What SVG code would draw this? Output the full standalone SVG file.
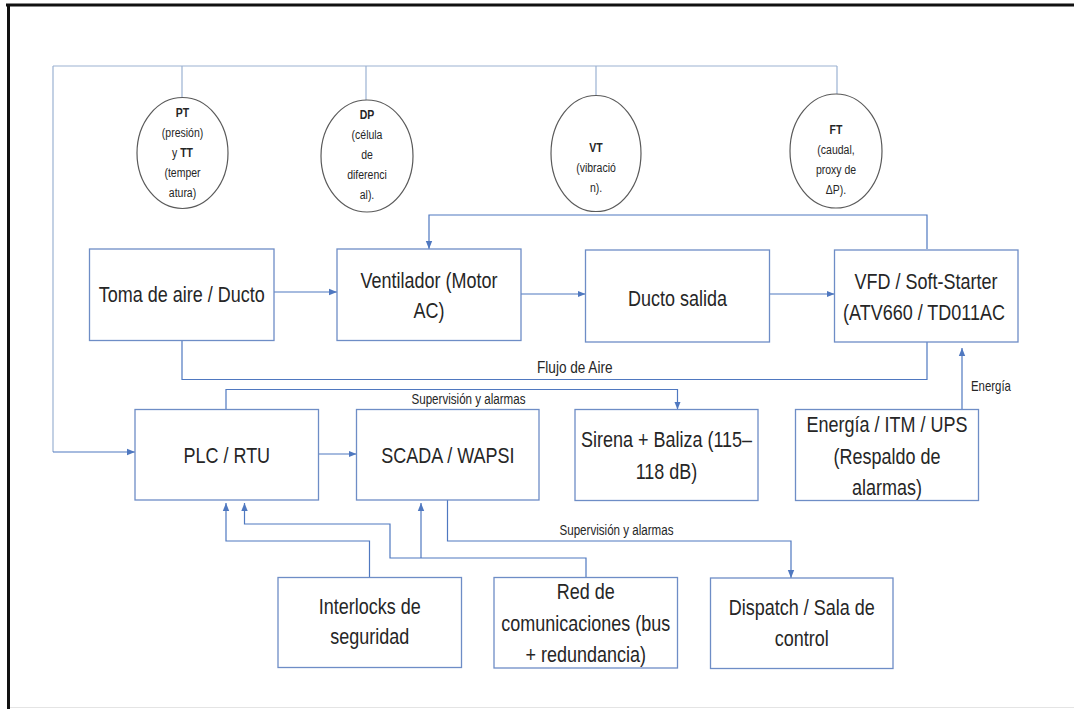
<svg xmlns="http://www.w3.org/2000/svg" width="1074" height="709" viewBox="0 0 1074 709">
<style>
.box{fill:#fff;stroke:#6E8DC6;stroke-width:1.3}
.circ{fill:#fff;stroke:#5a5a5a;stroke-width:1.2}
.bus{fill:none;stroke:#9CB2D2;stroke-width:1.2}
.ln{fill:none;stroke:#4F78C0;stroke-width:1.2}
.t{font-family:"Liberation Sans",Arial,sans-serif;font-size:18px;fill:#262626;text-anchor:middle;dominant-baseline:central}
.c{font-family:"Liberation Sans",Arial,sans-serif;font-size:10.5px;fill:#262626;text-anchor:middle;dominant-baseline:central}
.s{font-family:"Liberation Sans",Arial,sans-serif;font-size:11.6px;fill:#262626;dominant-baseline:central}
.b{font-weight:bold}
</style>
<defs>
<marker id="ah" viewBox="0 0 8 8" refX="8" refY="4" markerWidth="8" markerHeight="8" markerUnits="userSpaceOnUse" orient="auto">
<path d="M0,0.8 L8,4 L0,7.2 z" fill="#4F78C0"/>
</marker>
</defs>
<rect x="0" y="0" width="1074" height="709" fill="#fff"/>
<g id="frame">
<line x1="6" y1="5" x2="1074" y2="5" stroke="#111" stroke-width="3"/>
<line x1="8.5" y1="4" x2="8.5" y2="709" stroke="#111" stroke-width="3"/>
<line x1="10" y1="707.5" x2="1074" y2="707.5" stroke="#e4e4e4" stroke-width="1"/>
</g>
<g id="connectors">
<path class="bus" d="M53,66 H837 M182,66 V97.5 M366,66 V100 M596,66 V95 M837,66 V94 M53,66 V452"/>
<path class="ln" d="M53,452 H135" marker-end="url(#ah)"/>
<path class="ln" d="M927,249 V215 H429 V249" marker-end="url(#ah)"/>
<path class="ln" d="M274,292 H337" marker-end="url(#ah)"/>
<path class="ln" d="M521,294 H585.5" marker-end="url(#ah)"/>
<path class="ln" d="M769.5,294 H834.5" marker-end="url(#ah)"/>
<path class="ln" d="M182,341 V379.5 H927 V341"/>
<path class="ln" d="M962,409.5 V348" marker-end="url(#ah)"/>
<path class="ln" d="M318.5,454 H356.5" marker-end="url(#ah)"/>
<path class="ln" d="M226,409.5 V389.5 H677.5 V409.5" marker-end="url(#ah)"/>
<path class="ln" d="M369.5,577.5 V541 H226 V503" marker-end="url(#ah)"/>
<path class="ln" d="M586,577.5 V558 H390 V524 H244.5 V503" marker-end="url(#ah)"/>
<path class="ln" d="M421,558 V503" marker-end="url(#ah)"/>
<path class="ln" d="M447.5,500 V541 H791 V578" marker-end="url(#ah)"/>
<text class="s" transform="translate(537 366.5) scale(1 1.22)" style="font-size:13.6px">Flujo de Aire</text>
<text class="s" transform="translate(971 386) scale(1 1.22)" style="font-size:11.4px">Energía</text>
<text class="s" transform="translate(411.5 399) scale(1 1.22)">Supervisión y alarmas</text>
<text class="s" transform="translate(559.5 530) scale(1 1.22)">Supervisión y alarmas</text>
</g>
<g id="pt">
<ellipse class="circ" cx="182.5" cy="153" rx="45.5" ry="55.5"/>
<text class="c b" transform="translate(182.5 113) scale(1 1.25)">PT</text>
<text class="c" transform="translate(182.5 133) scale(1 1.25)">(presión)</text>
<text class="c" transform="translate(182.5 153) scale(1 1.25)">y <tspan class="b">TT</tspan></text>
<text class="c" transform="translate(182.5 173) scale(1 1.25)">(temper</text>
<text class="c" transform="translate(182.5 193) scale(1 1.25)">atura)</text>
</g>
<g id="dp">
<ellipse class="circ" cx="367" cy="156" rx="46" ry="56"/>
<text class="c b" transform="translate(367 115) scale(1 1.25)">DP</text>
<text class="c" transform="translate(367 135) scale(1 1.25)">(célula</text>
<text class="c" transform="translate(367 155) scale(1 1.25)">de</text>
<text class="c" transform="translate(367 175) scale(1 1.25)">diferenci</text>
<text class="c" transform="translate(367 195) scale(1 1.25)">al).</text>
</g>
<g id="vt">
<ellipse class="circ" cx="596" cy="153.5" rx="45" ry="58"/>
<text class="c b" transform="translate(596 148) scale(1 1.25)">VT</text>
<text class="c" transform="translate(596 168) scale(1 1.25)">(vibració</text>
<text class="c" transform="translate(596 188) scale(1 1.25)">n).</text>
</g>
<g id="ft">
<ellipse class="circ" cx="836" cy="151" rx="46" ry="57"/>
<text class="c b" transform="translate(836 130) scale(1 1.25)">FT</text>
<text class="c" transform="translate(836 150) scale(1 1.25)">(caudal,</text>
<text class="c" transform="translate(836 170) scale(1 1.25)">proxy de</text>
<text class="c" transform="translate(836 190) scale(1 1.25)">ΔP).</text>
</g>
<g id="toma">
<rect class="box" x="89.5" y="249" width="184.5" height="91.5"/>
<text class="t" transform="translate(181.8 294) scale(1 1.22)">Toma de aire / Ducto</text>
</g>
<g id="ventilador">
<rect class="box" x="337" y="249" width="184" height="91.5"/>
<text class="t" transform="translate(429 280) scale(1 1.22)">Ventilador (Motor</text>
<text class="t" transform="translate(429 310) scale(1 1.22)">AC)</text>
</g>
<g id="ducto">
<rect class="box" x="585.5" y="250" width="184" height="92"/>
<text class="t" transform="translate(677.5 298) scale(1 1.22)">Ducto salida</text>
</g>
<g id="vfd">
<rect class="box" x="834.5" y="250" width="183.5" height="92"/>
<text class="t" transform="translate(926 281.5) scale(1 1.22)">VFD / Soft-Starter</text>
<text class="t" transform="translate(924 312.8) scale(1 1.22)">(ATV660 / TD011AC</text>
</g>
<g id="plc">
<rect class="box" x="135" y="409.5" width="183.5" height="90.5"/>
<text class="t" transform="translate(226.8 455) scale(1 1.22)">PLC / RTU</text>
</g>
<g id="scada">
<rect class="box" x="356.5" y="409.5" width="182.5" height="90.5"/>
<text class="t" transform="translate(447.8 455) scale(1 1.22)">SCADA / WAPSI</text>
</g>
<g id="sirena">
<rect class="box" x="575" y="409.5" width="183" height="91"/>
<text class="t" transform="translate(666.5 439.7) scale(1 1.22)">Sirena + Baliza (115–</text>
<text class="t" transform="translate(666.5 471) scale(1 1.22)">118 dB)</text>
</g>
<g id="energia">
<rect class="box" x="795.5" y="409.5" width="183" height="91"/>
<text class="t" transform="translate(887 424.4) scale(1 1.22)">Energía / ITM / UPS</text>
<text class="t" transform="translate(887 456.3) scale(1 1.22)">(Respaldo de</text>
<text class="t" transform="translate(887 487.6) scale(1 1.22)">alarmas)</text>
</g>
<g id="interlocks">
<rect class="box" x="278" y="577.5" width="183.5" height="90"/>
<text class="t" transform="translate(369.8 606.2) scale(1 1.22)">Interlocks de</text>
<text class="t" transform="translate(369.8 636.5) scale(1 1.22)">seguridad</text>
</g>
<g id="red">
<rect class="box" x="494" y="577.5" width="183.5" height="90.5"/>
<text class="t" transform="translate(585.8 591.7) scale(1 1.22)">Red de</text>
<text class="t" transform="translate(585.8 622.9) scale(1 1.22)">comunicaciones (bus</text>
<text class="t" transform="translate(585.8 654.1) scale(1 1.22)">+ redundancia)</text>
</g>
<g id="dispatch">
<rect class="box" x="710.5" y="578" width="182.5" height="90.5"/>
<text class="t" transform="translate(801.8 607.3) scale(1 1.22)">Dispatch / Sala de</text>
<text class="t" transform="translate(801.8 638.5) scale(1 1.22)">control</text>
</g>
</svg>
